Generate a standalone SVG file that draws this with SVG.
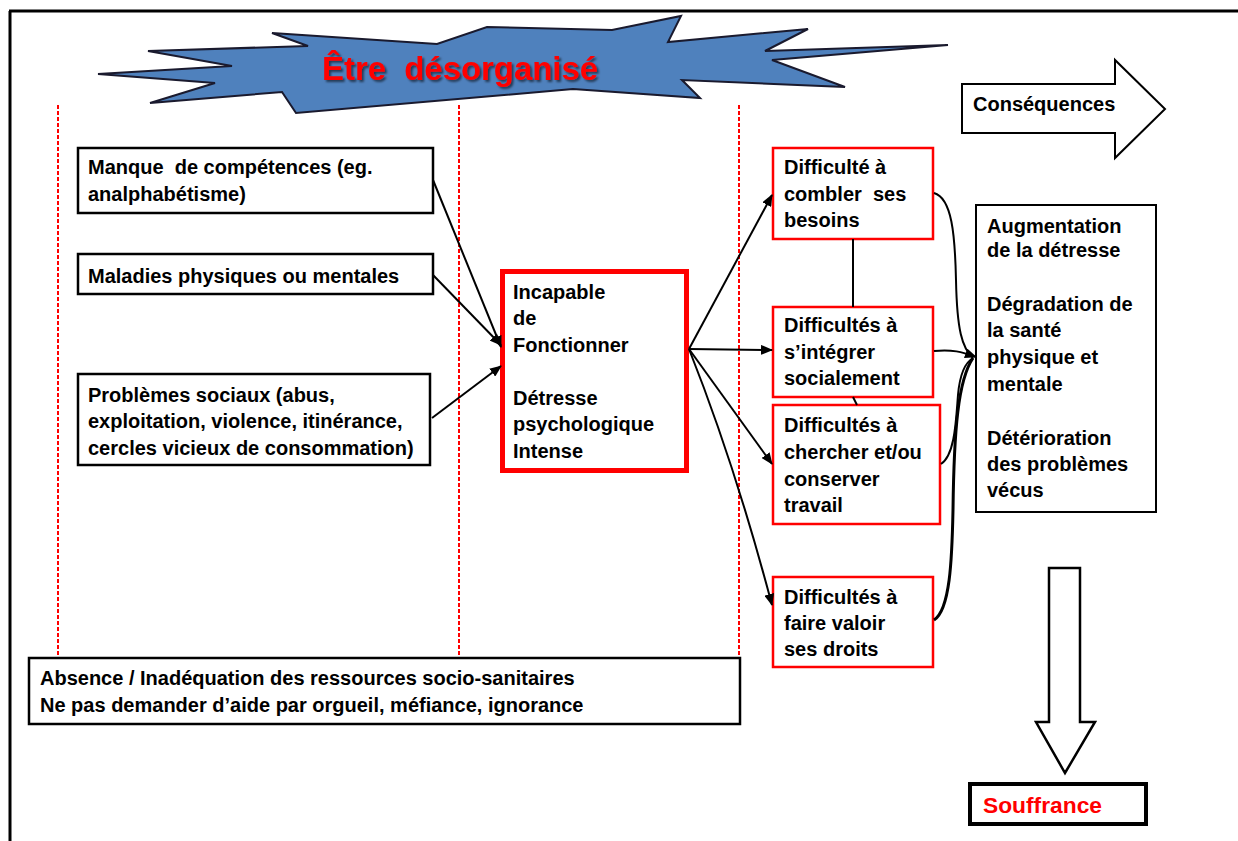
<svg xmlns="http://www.w3.org/2000/svg" width="1238" height="841" viewBox="0 0 1238 841">
<defs>
<style>
text{font-family:"Liberation Sans",Arial,sans-serif;font-weight:bold;font-size:20px;fill:#000;white-space:pre}
.bk{fill:#fff;stroke:#000;stroke-width:2.5}
.rd{fill:#fff;stroke:#f00;stroke-width:2.5}
.dash{stroke:#f00;stroke-width:2;stroke-dasharray:4 2;fill:none}
.ln{stroke:#000;stroke-width:2;fill:none}
</style>
<marker id="ah" markerUnits="userSpaceOnUse" markerWidth="12" markerHeight="10" refX="11" refY="5" orient="auto">
<path d="M0,0 L12,5 L0,10 z" fill="#000"/>
</marker>
<filter id="sh" x="-10%" y="-30%" width="120%" height="160%">
<feDropShadow dx="2" dy="2" stdDeviation="1.2" flood-color="#000" flood-opacity="0.55"/>
</filter>
</defs>
<rect width="1238" height="841" fill="#fff"/>
<g id="frame">
<path d="M9,11 L1238,11 M10,11 L10,841" stroke="#000" stroke-width="3" fill="none"/>
</g>
<g id="title">
<polygon points="98,74 232,66 148,51 308,46 272,33 437,44 487,27 612,30 681,16 668,42 808,29 765,51 948,45 772,60 845,87 682,80 700,98 573,89 296,113 282,92 150,103 215,83" fill="#4f81bd" stroke="#1a1a2e" stroke-width="2" stroke-linejoin="miter"/>
<text x="322" y="80" xml:space="preserve" style="fill:#f00;font-size:33px" textLength="276" lengthAdjust="spacingAndGlyphs" filter="url(#sh)">Être  désorganisé</text>
</g>
<g id="dividers">
<line class="dash" x1="58" y1="105" x2="58" y2="657"/>
<line class="dash" x1="459" y1="105" x2="459" y2="657"/>
<line class="dash" x1="739" y1="105" x2="739" y2="657"/>
</g>
<g id="consequences-arrow">
<polygon points="962,84 1115,84 1115,60 1165,109 1115,158 1115,133 962,133" fill="#fff" stroke="#000" stroke-width="2"/>
<text x="973" y="111">Conséquences</text>
</g>
<g id="cause1">
<rect class="bk" x="78" y="148" width="355" height="65"/>
<text x="88" y="174" xml:space="preserve">Manque  de compétences (eg.</text>
<text x="88" y="201">analphabétisme)</text>
</g>
<g id="cause2">
<rect class="bk" x="78" y="254" width="355" height="40"/>
<text x="88" y="283">Maladies physiques ou mentales</text>
</g>
<g id="cause3">
<rect class="bk" x="78" y="374" width="352" height="91"/>
<text x="88" y="402">Problèmes sociaux (abus,</text>
<text x="88" y="428">exploitation, violence, itinérance,</text>
<text x="88" y="455">cercles vicieux de consommation)</text>
</g>
<g id="center">
<rect x="502.5" y="271.5" width="184" height="199" fill="#fff" stroke="#f00" stroke-width="5"/>
<text x="513" y="299">Incapable</text>
<text x="513" y="325">de</text>
<text x="513" y="352">Fonctionner</text>
<text x="513" y="405">Détresse</text>
<text x="513" y="431">psychologique</text>
<text x="513" y="458">Intense</text>
</g>
<g id="d1">
<rect class="rd" x="773" y="148" width="160" height="91"/>
<text x="784" y="174">Difficulté à</text>
<text x="784" y="201" xml:space="preserve">combler  ses</text>
<text x="784" y="227">besoins</text>
</g>
<g id="d2">
<rect class="rd" x="773" y="307" width="160" height="90"/>
<text x="784" y="332">Difficultés à</text>
<text x="784" y="359">s’intégrer</text>
<text x="784" y="385">socialement</text>
</g>
<g id="d3">
<rect class="rd" x="773" y="405" width="167" height="119"/>
<text x="784" y="432">Difficultés à</text>
<text x="784" y="459">chercher et/ou</text>
<text x="784" y="486">conserver</text>
<text x="784" y="512">travail</text>
</g>
<g id="d4">
<rect class="rd" x="773" y="577" width="160" height="90"/>
<text x="784" y="604">Difficultés à</text>
<text x="784" y="630">faire valoir</text>
<text x="784" y="656">ses droits</text>
</g>
<g id="outcomes">
<rect x="976" y="205" width="180" height="307" fill="#fff" stroke="#000" stroke-width="2"/>
<text x="987" y="233">Augmentation</text>
<text x="987" y="257">de la détresse</text>
<text x="987" y="311">Dégradation de</text>
<text x="987" y="337">la santé</text>
<text x="987" y="364">physique et</text>
<text x="987" y="391">mentale</text>
<text x="987" y="445">Détérioration</text>
<text x="987" y="471">des problèmes</text>
<text x="987" y="497">vécus</text>
</g>
<g id="resources">
<rect class="bk" x="29" y="658" width="711" height="66"/>
<text x="40" y="685">Absence / Inadéquation des ressources socio-sanitaires</text>
<text x="40" y="712">Ne pas demander d’aide par orgueil, méfiance, ignorance</text>
</g>
<g id="down-arrow">
<polygon points="1049,568 1080,568 1080,722 1095,722 1065,773 1036,722 1049,722" fill="#fff" stroke="#000" stroke-width="2.5"/>
</g>
<g id="souffrance">
<rect x="970" y="784" width="176" height="40" fill="#fff" stroke="#000" stroke-width="4"/>
<text x="983" y="813" style="fill:#f00;font-size:22px" textLength="119" lengthAdjust="spacingAndGlyphs">Souffrance</text>
</g>
<g id="connectors">
<path class="ln" d="M433,180 L501,347" marker-end="url(#ah)"/>
<path class="ln" d="M433,275 L501,345" marker-end="url(#ah)"/>
<path class="ln" d="M432,418 L501,366" marker-end="url(#ah)"/>
<path class="ln" d="M689,349 L772,195" marker-end="url(#ah)"/>
<path class="ln" d="M689,349 L772,350" marker-end="url(#ah)"/>
<path class="ln" d="M689,349 L772,464" marker-end="url(#ah)"/>
<path class="ln" d="M689,349 Q735,465 772,605" marker-end="url(#ah)"/>
<path class="ln" d="M853,239 L853,307"/>
<path class="ln" d="M853,397 L857,405"/>
<path class="ln" d="M934,193 C952,198 955,235 956,280 C957,330 962,348 973,358"/>
<path class="ln" d="M934,351 C952,349 962,352 976,357" marker-end="url(#ah)"/>
<path class="ln" d="M941,464 C955,455 956,420 958,395 C960,372 966,362 973,358"/>
<path class="ln" d="M934,620 C950,610 952,560 953,510 C954,430 958,380 973,358" style="stroke-width:3"/>
</g>
</svg>
